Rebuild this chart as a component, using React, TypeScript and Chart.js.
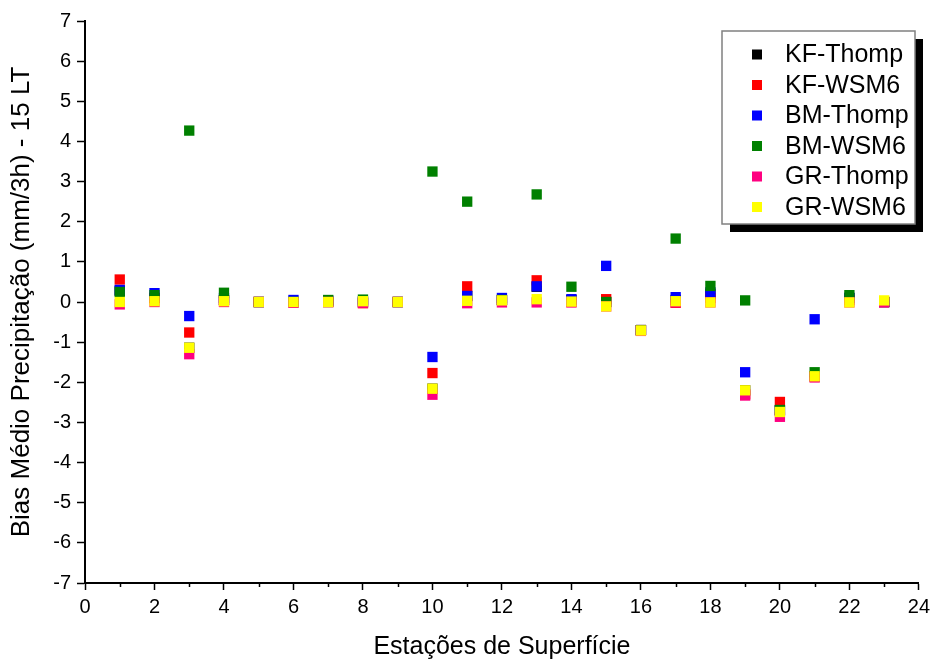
import React, { useEffect, useRef } from "react";
import { Chart, registerables } from "chart.js";
Chart.register(...registerables);

const stations = [1, 2, 3, 4, 5, 6, 7, 8, 9, 10, 11, 12, 13, 14, 15, 16, 17, 18, 19, 20, 21, 22, 23];
const seriesNames = ["KF-Thomp", "KF-WSM6", "BM-Thomp", "BM-WSM6", "GR-Thomp", "GR-WSM6"];
const seriesColors = ["#000000", "#ff0000", "#0000ff", "#008000", "#ff0080", "#ffff00"];

const kfThomp = [0.28, 0.1, -1.14, 0.05, 0, 0, 0, 0, 0, -2.16, 0.15, 0.05, 0.38, 0.05, 0, -0.7, 0.05, 0.2, -2.2, -2.7, -1.85, 0.1, 0];
const kfWsm6 = [0.56, 0.1, -0.76, 0.05, 0, 0, 0, -0.03, 0, -1.77, 0.39, 0.05, 0.54, 0, 0.07, -0.7, -0.02, 0.1, -2.3, -2.49, -1.85, 0.05, 0];
const bmThomp = [0.3, 0.22, -0.35, 0.1, 0, 0.05, 0.03, 0.02, 0, -1.37, 0.15, 0.1, 0.39, 0.07, 0.9, -0.7, 0.12, 0.24, -1.75, -2.7, -0.43, 0.1, 0];
const bmWsm6 = [0.25, 0.17, 4.27, 0.23, 0, 0, 0.05, 0.06, 0, 3.25, 2.5, 0.05, 2.68, 0.38, 0, -0.7, 1.58, 0.4, 0.04, -2.69, -1.75, 0.17, 0];
const grThomp = [-0.06, 0, -1.3, 0, 0, -0.02, 0, -0.02, 0, -2.31, -0.03, -0.01, -0.01, -0.01, -0.11, -0.72, -0.01, -0.01, -2.33, -2.86, -1.88, -0.01, -0.01];
const grWsm6 = [0, 0.02, -1.14, 0.02, 0, 0, 0, 0.02, 0, -2.16, 0.03, 0.04, 0.07, 0.01, -0.11, -0.71, 0.02, -0.01, -2.2, -2.74, -1.85, -0.01, 0.04];

const allSeries = [kfThomp, kfWsm6, bmThomp, bmWsm6, grThomp, grWsm6];

const xTitle = "Estações de Superfície";
const yTitle = "Bias Médio Precipitação (mm/3h) - 15 LT";
const FONT = '"Liberation Sans", Arial, sans-serif';

const minorTicksPlugin = {
  id: "minorTicks",
  afterDraw(chart: any) {
    const ctx = chart.ctx;
    const xs = chart.scales.x;
    const bottom = chart.chartArea.bottom;
    ctx.save();
    ctx.strokeStyle = "#000";
    ctx.lineWidth = 1.5;
    for (let v = 1; v < 24; v += 2) {
      const px = Math.round(xs.getPixelForValue(v)) + 0.5;
      ctx.beginPath();
      ctx.moveTo(px, bottom);
      ctx.lineTo(px, bottom + 4);
      ctx.stroke();
    }
    ctx.restore();
  },
};

const boxLegendPlugin = {
  id: "boxLegend",
  afterDraw(chart: any) {
    const ctx = chart.ctx;
    const x = 722, y = 31, w = 193, h = 193;
    ctx.save();
    ctx.fillStyle = "#000";
    ctx.fillRect(x + 8, y + 8, w, h);
    ctx.fillStyle = "#fff";
    ctx.fillRect(x, y, w, h);
    ctx.strokeStyle = "#808080";
    ctx.lineWidth = 1.5;
    ctx.strokeRect(x, y, w, h);
    ctx.font = "25px " + FONT;
    ctx.textBaseline = "middle";
    ctx.textAlign = "left";
    chart.data.datasets.forEach((ds: any, i: number) => {
      const cy = y + 23.5 + i * 30.5;
      ctx.fillStyle = ds.backgroundColor;
      ctx.fillRect(x + 30, cy - 5, 10, 10);
      ctx.fillStyle = "#000";
      ctx.fillText(ds.label, x + 63, cy + 1);
    });
    ctx.restore();
  },
};

export default function App() {
  const ref = useRef<HTMLCanvasElement>(null);
  useEffect(() => {
    if (!ref.current) return;
    const chart = new Chart(ref.current, {
      type: "scatter",
      data: {
        datasets: allSeries.map((vals, i) => ({
          label: seriesNames[i],
          data: stations.map((s, j) => ({ x: s, y: vals[j] })),
          backgroundColor: seriesColors[i],
          borderColor: seriesColors[i],
          borderWidth: 0,
          pointStyle: "rect",
          pointRadius: 7.3,
          pointHoverRadius: 7.3,
          order: allSeries.length - 1 - i,
        })),
      },
      options: {
        animation: false,
        responsive: false,
        devicePixelRatio: 1,
        layout: { padding: { top: 21, right: 16, left: 0, bottom: 0 } },
        plugins: { legend: { display: false }, tooltip: { enabled: false } },
        scales: {
          x: {
            type: "linear",
            min: 0,
            max: 24,
            afterFit: (s: any) => { s.height = 77; },
            ticks: { stepSize: 2, color: "#000", font: { family: FONT, size: 20 }, padding: 5, maxRotation: 0 },
            grid: { drawOnChartArea: false, drawTicks: true, tickLength: 7, tickColor: "#000", tickWidth: 1.5 },
            border: { display: true, color: "#000", width: 2 },
            title: { display: true, text: xTitle, color: "#000", font: { family: FONT, size: 25, lineHeight: 1 }, padding: { top: 0, bottom: 0 } },
          },
          y: {
            type: "linear",
            min: -7,
            max: 7,
            afterFit: (s: any) => { s.width = 85; },
            ticks: { stepSize: 1, color: "#000", font: { family: FONT, size: 20 }, padding: 6 },
            grid: { drawOnChartArea: false, drawTicks: true, tickLength: 8, tickColor: "#000", tickWidth: 1.5 },
            border: { display: true, color: "#000", width: 2 },
            title: { display: true, text: yTitle, color: "#000", font: { family: FONT, size: 26 }, padding: { top: 6, bottom: 0 } },
          },
        },
      },
      plugins: [minorTicksPlugin, boxLegendPlugin],
    } as any);
    return () => chart.destroy();
  }, []);
  return (
    <div style={{ position: "fixed", left: 0, top: 0, width: 935, height: 660, background: "#fff" }}>
      <canvas ref={ref} width={935} height={660} style={{ width: 935, height: 660, display: "block" }} />
    </div>
  );
}
